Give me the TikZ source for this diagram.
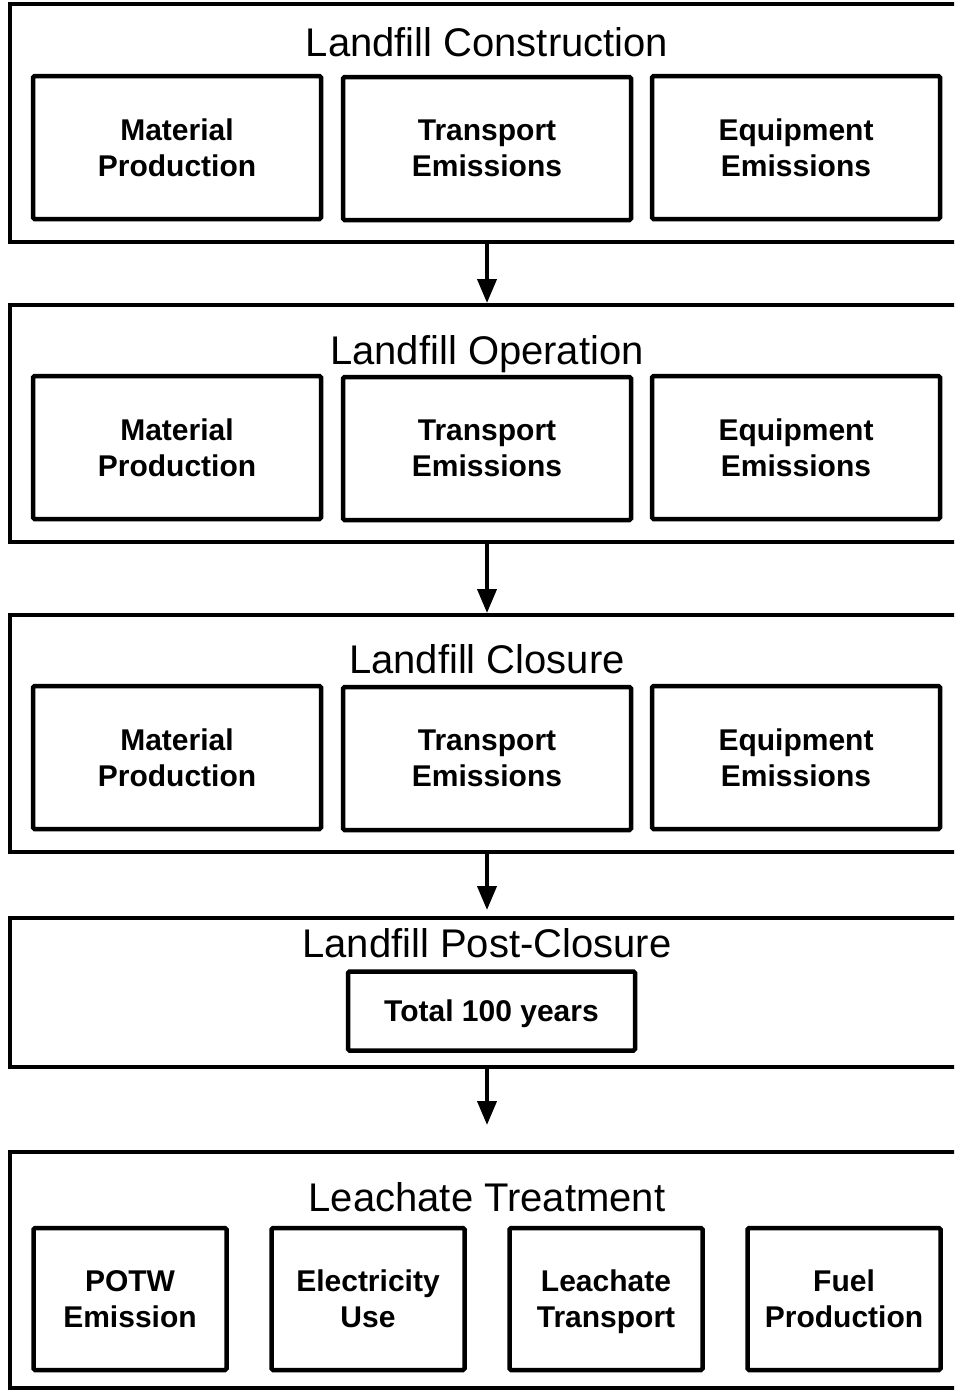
\documentclass[tikz,border=0pt]{standalone}
\usepackage{fontspec}
\setmainfont{Liberation Sans}
\usetikzlibrary{arrows.meta}
\begin{document}
\begin{tikzpicture}[x=1pt,y=-1pt,
  outerbox/.style={draw, line width=4pt, rectangle, minimum width=965pt, inner sep=0pt},
  innerbox/.style={draw, line width=4.5pt, rectangle, rounded corners=1.5pt, align=center,
    font=\fontsize{30}{36}\selectfont\bfseries, inner sep=0pt, text depth=0pt},
  wide/.style={minimum width=288pt, minimum height=143pt},
  narrow/.style={minimum width=193pt, minimum height=142pt},
  title/.style={font=\fontsize{40}{48}\selectfont, text height=28.8pt, text depth=0pt, inner sep=0pt},
  arr/.style={line width=4pt, -{Triangle[length=24pt,width=19pt]}}]
\clip (0,0) rectangle (954,1390);
% outer boxes
\node[outerbox, minimum height=238pt] (o1) at (492.5,123) {};
\node[outerbox, minimum height=237pt] (o2) at (492.5,423.5) {};
\node[outerbox, minimum height=237pt] (o3) at (492.5,733.5) {};
\node[outerbox, minimum height=149pt] (o4) at (492.5,992.5) {};
\node[outerbox, minimum height=236pt] (o5) at (492.5,1270) {};
% titles
\node[title] (t1) at (487,42) {Landfill Construction};
\node[title] (t2) at (487,350) {Landfill Operation};
\node[title] (t3) at (487,659) {Landfill Closure};
\node[title] (t4) at (487,943) {Landfill Post-Closure};
\node[title] (t5) at (487,1197) {Leachate Treatment};
% construction
\node[innerbox, wide] (a1) at (177,147.5) {Material\\Production};
\node[innerbox, wide] (a2) at (487,148.5) {Transport\\Emissions};
\node[innerbox, wide] (a3) at (796,147.5) {Equipment\\Emissions};
% operation
\node[innerbox, wide] (b1) at (177,447.5) {Material\\Production};
\node[innerbox, wide] (b2) at (487,448.5) {Transport\\Emissions};
\node[innerbox, wide] (b3) at (796,447.5) {Equipment\\Emissions};
% closure
\node[innerbox, wide] (c1) at (177,757.5) {Material\\Production};
\node[innerbox, wide] (c2) at (487,758.5) {Transport\\Emissions};
\node[innerbox, wide] (c3) at (796,757.5) {Equipment\\Emissions};
% post-closure
\node[innerbox, minimum width=287pt, minimum height=79pt, text height=21.6pt] (d1) at (491.5,1011) {Total 100 years};
% leachate
\node[innerbox, narrow] (e1) at (130,1299) {POTW\\Emission};
\node[innerbox, narrow] (e2) at (368,1299) {Electricity\\Use};
\node[innerbox, narrow] (e3) at (606,1299) {Leachate\\Transport};
\node[innerbox, narrow] (e4) at (844,1299) {Fuel\\Production};
% arrows
\draw[arr] (a2.center |- o1.south) -- (a2.center |- o2.north);
\draw[arr] (a2.center |- o2.south) -- (a2.center |- o3.north);
\draw[arr] (a2.center |- o3.south) -- ([yshift=6pt]a2.center |- o4.north);
\draw[arr] (a2.center |- o4.south) -- ([yshift=25pt]a2.center |- o5.north);
\end{tikzpicture}
\end{document}
